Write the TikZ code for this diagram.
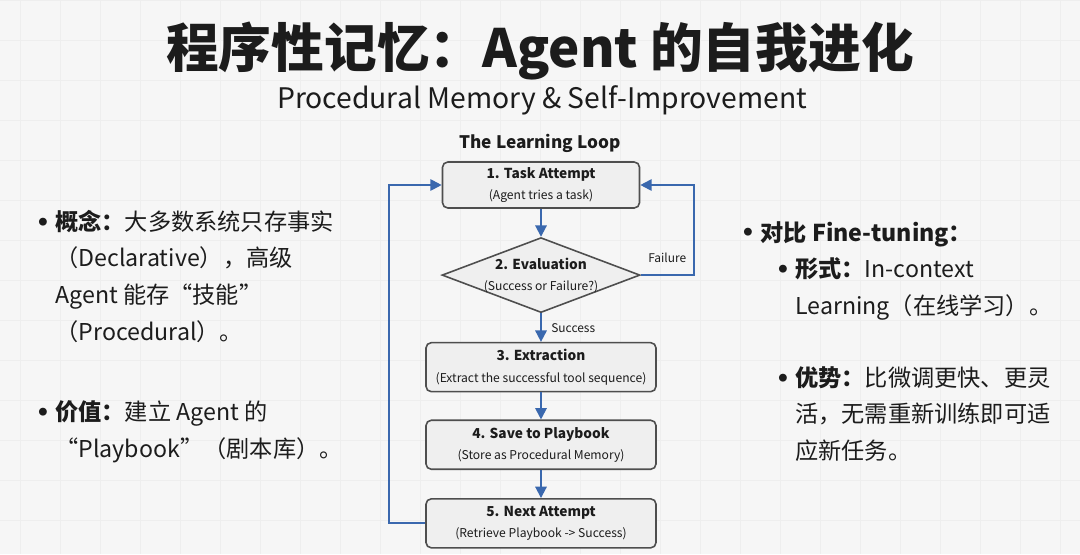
\documentclass[tikz,border=0pt]{standalone}
\usepackage{fontspec}
\setmainfont{Noto Sans CJK SC}
\usetikzlibrary{shapes.geometric, arrows.meta, positioning, calc}
\definecolor{pageBg}{RGB}{246, 246, 246}
\definecolor{gridGray}{RGB}{238, 238, 238}
\definecolor{boxFill}{RGB}{239, 239, 239}
\definecolor{boxBorder}{RGB}{78, 78, 78}
\definecolor{flowBlue}{RGB}{58, 104, 174}
\definecolor{textDark}{RGB}{28, 28, 28}

\newcommand{\steptext}[2]{{\bfseries\fontsize{7.8}{9.4}\selectfont #1}\\{\fontsize{6.9}{9.4}\selectfont #2}}
\newcommand{\dotmark}{\llap{\raisebox{3pt}{\fontsize{5}{5}\selectfont ●}\hspace{4.5pt}}}

\begin{document}
\begin{tikzpicture}[
    stepbox/.style={
        rectangle,
        rounded corners=3pt,
        minimum width=4.6cm,
        minimum height=0.98cm,
        align=center,
        inner sep=2pt,
        line width=0.9pt,
        draw=boxBorder,
        fill=boxFill,
        text=textDark
    },
    decision/.style={
        diamond,
        minimum width=3.96cm,
        minimum height=1.5cm,
        inner sep=0pt,
        line width=0.9pt,
        draw=boxBorder,
        fill=boxFill
    },
    para/.style={
        align=left,
        inner sep=0pt,
        anchor=base west,
        text=textDark,
        font=\fontsize{13.2}{20.8}\selectfont
    },
    steplabel/.style={
        font=\fontsize{6.8}{8}\selectfont,
        text=textDark
    },
    flow/.style={
        -{Triangle[length=6.5pt, width=6.5pt]},
        line width=1.1pt,
        color=flowBlue
    }
]

% Page and grid
\useasboundingbox (0,0) rectangle (21.6,-11.08);
\fill[pageBg] (0,0) rectangle (21.6,-11.08);
\draw[gridGray, line width=0.4pt, step=0.8, xshift=0.4cm] (-0.4,-11.08) grid (21.2,0);

% Titles
\node[font=\fontsize{30}{36}\selectfont\bfseries, text=textDark] (title) at (10.8,-1.02) {程序性记忆：Agent 的自我进化};
\node[font=\fontsize{16.1}{18}\selectfont, text=textDark] (subtitle) at (10.84,-2.0) {Procedural Memory \& Self-Improvement};
\node[font=\fontsize{9.8}{12}\selectfont\bfseries, text=textDark] (looptitle) at (10.8,-2.86) {The Learning Loop};

% Learning loop
\node[stepbox, minimum width=3.94cm, minimum height=0.92cm] (task) at (10.82,-3.7) {\steptext{1. Task Attempt}{(Agent tries a task)}};
\node[decision, below=0.56cm of task] (eval) {};
\node[align=center, text=textDark, inner sep=0pt] (evaltext) at (eval) {\steptext{2. Evaluation}{(Success or Failure?)}};
\node[stepbox, below=0.57cm of eval] (extract) {\steptext{3. Extraction}{(Extract the successful tool sequence)}};
\node[stepbox, below=0.54cm of extract] (save) {\steptext{4. Save to Playbook}{(Store as Procedural Memory)}};
\node[stepbox, below=0.56cm of save] (next) {\steptext{5. Next Attempt}{(Retrieve Playbook -> Success)}};

% Arrows
\draw[flow] (task) -- (eval);
\draw[flow] (eval) -- node[steplabel, right=2pt] (success) {Success} (extract);
\draw[flow] (extract) -- (save);
\draw[flow] (save) -- (next);
\draw[flow] (eval.east) -- node[steplabel, above=3pt] (failure) {Failure} ++(1.06,0) |- (task.east);
\draw[flow] (next.west) -- ++(-0.72,0) |- (task.west);

% Left notes (base = last line)
\node[para] (concept) at (1.1,-6.8) {\dotmark\textbf{概念：}大多数系统只存事实\\（Declarative），高级\\Agent 能存“技能”\\（Procedural）。};
\node[para] (value) at (1.1,-9.15) {\dotmark\textbf{价值：}建立 Agent 的\\“Playbook”（剧本库）。};

% Right notes
\node[para] (compare) at (15.2,-4.82) {\dotmark\textbf{对比 Fine-tuning：}};
\node[para] (form) at (15.9,-6.29) {\dotmark\textbf{形式：}In-context\\Learning（在线学习）。};
\node[para] (merit) at (15.9,-9.19) {\dotmark\textbf{优势：}比微调更快、更灵\\活，无需重新训练即可适\\应新任务。};

\end{tikzpicture}
\end{document}
